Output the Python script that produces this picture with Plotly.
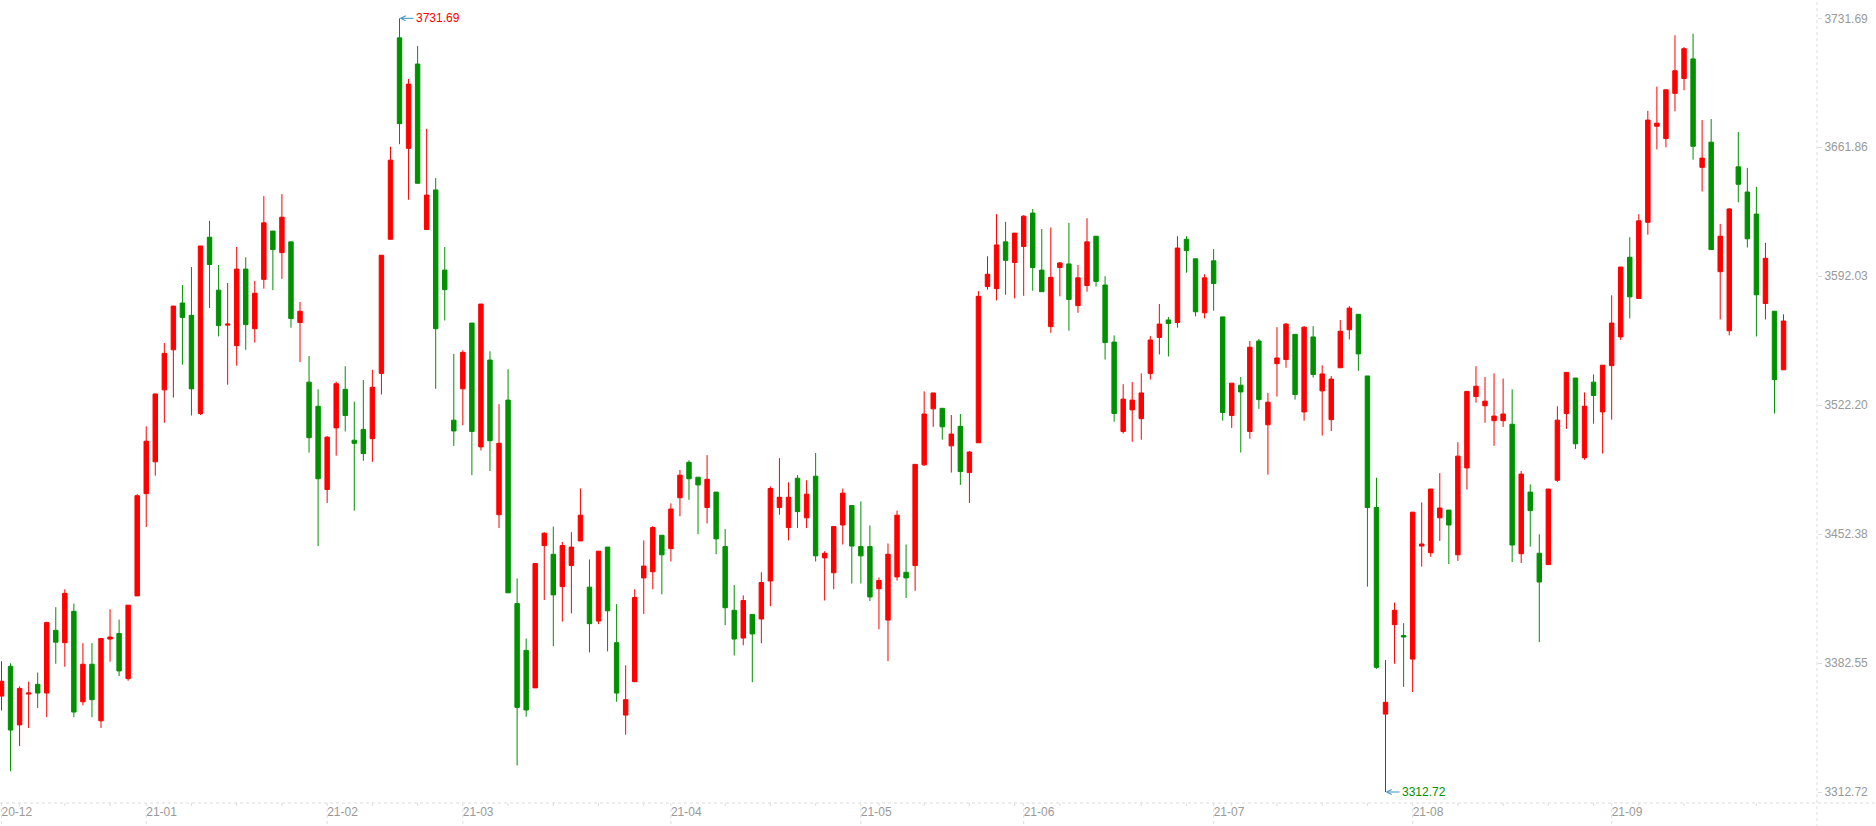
import pandas as pd
import plotly.graph_objects as go

# Shanghai Composite, daily bars, 2020-12-10 .. 2021-09-30 (China trading calendar)
holidays = ["2021-01-01", "2021-02-11", "2021-02-12", "2021-02-15", "2021-02-16",
            "2021-02-17", "2021-04-05", "2021-05-03", "2021-05-04", "2021-05-05",
            "2021-06-14", "2021-09-20", "2021-09-21"]
days = pd.bdate_range("2020-12-10", "2021-09-30", freq="C", holidays=holidays)
dates = [d.strftime("%Y-%m-%d") for d in days]

open_ = [3364.65, 3380.79, 3349.07, 3365.77, 3371.05, 3366.32, 3400.27, 3393.59, 3410.57, 3361.59,
         3381.91, 3351.30, 3395.54, 3398.60, 3374.12, 3418.92, 3474.29, 3491.55, 3530.50, 3552.21,
         3577.53, 3570.85, 3517.70, 3613.15, 3584.49, 3565.57, 3554.43, 3595.90, 3563.62, 3590.33,
         3616.49, 3604.80, 3610.64, 3566.96, 3534.68, 3521.60, 3476.52, 3509.91, 3530.78, 3503.23,
         3509.08, 3504.07, 3539.41, 3612.04, 3721.12, 3661.29, 3706.93, 3617.32, 3638.75, 3595.34,
         3514.09, 3531.06, 3566.68, 3499.62, 3546.64, 3462.88, 3524.94, 3414.74, 3389.42, 3369.11,
         3446.19, 3441.46, 3423.93, 3435.33, 3448.69, 3423.65, 3405.28, 3445.35, 3393.59, 3354.36,
         3372.45, 3428.66, 3432.00, 3451.75, 3444.52, 3472.07, 3491.27, 3483.20, 3466.78, 3475.13,
         3445.63, 3411.13, 3396.10, 3408.90, 3406.39, 3426.99, 3466.78, 3455.93, 3482.64, 3461.21,
         3483.75, 3439.51, 3431.44, 3457.32, 3467.89, 3445.63, 3445.63, 3422.81, 3405.84, 3429.21,
         3431.72, 3435.33, 3489.88, 3520.21, 3520.49, 3500.17, 3510.75, 3485.70, 3501.84, 3586.44,
         3585.32, 3610.64, 3599.51, 3608.14, 3626.23, 3595.34, 3564.73, 3596.73, 3598.68, 3576.14,
         3586.99, 3613.71, 3587.27, 3556.38, 3507.96, 3519.65, 3514.92, 3539.41, 3558.89, 3568.35,
         3566.96, 3612.04, 3601.46, 3572.24, 3600.35, 3570.02, 3516.59, 3533.01, 3507.96, 3556.94,
         3511.58, 3544.70, 3546.92, 3560.56, 3518.54, 3559.16, 3529.95, 3514.36, 3542.47, 3563.06,
         3571.41, 3538.02, 3466.78, 3354.91, 3403.33, 3397.49, 3384.69, 3445.91, 3442.29, 3461.21,
         3465.39, 3441.18, 3488.21, 3526.89, 3521.88, 3513.81, 3513.81, 3511.86, 3441.74, 3475.13,
         3442.01, 3435.89, 3481.53, 3517.70, 3536.90, 3493.77, 3534.68, 3518.54, 3543.58, 3559.16,
         3602.30, 3580.04, 3621.22, 3673.26, 3666.58, 3691.06, 3699.13, 3709.71, 3650.99, 3664.63,
         3594.51, 3562.50, 3651.27, 3637.64, 3625.67, 3577.25, 3573.08, 3541.36]

high = [3383.58, 3382.46, 3369.94, 3372.45, 3377.45, 3405.00, 3412.80, 3422.53, 3414.74, 3393.32,
        3393.32, 3395.82, 3411.68, 3406.12, 3413.91, 3474.01, 3510.75, 3528.28, 3555.83, 3575.86,
        3587.27, 3597.01, 3608.42, 3622.05, 3598.12, 3588.38, 3607.86, 3602.30, 3589.50, 3635.41,
        3616.49, 3636.52, 3610.64, 3578.09, 3548.87, 3530.78, 3505.46, 3534.96, 3543.30, 3524.10,
        3535.79, 3541.36, 3603.41, 3662.12, 3731.69, 3698.86, 3716.67, 3671.86, 3645.15, 3607.86,
        3549.98, 3551.93, 3566.68, 3576.97, 3551.37, 3522.71, 3541.63, 3428.38, 3395.82, 3436.45,
        3453.42, 3456.48, 3448.14, 3453.42, 3477.08, 3438.67, 3443.13, 3445.35, 3414.46, 3381.35,
        3422.53, 3448.97, 3456.76, 3451.75, 3469.01, 3487.09, 3492.38, 3483.20, 3495.16, 3475.13,
        3455.09, 3424.76, 3419.20, 3408.90, 3431.72, 3478.19, 3493.49, 3480.41, 3484.31, 3481.53,
        3496.28, 3443.13, 3456.48, 3477.08, 3467.89, 3470.12, 3457.04, 3428.93, 3447.30, 3465.11,
        3446.74, 3490.15, 3529.67, 3528.83, 3520.49, 3516.87, 3517.42, 3497.39, 3583.93, 3602.85,
        3625.67, 3621.50, 3615.38, 3625.11, 3628.45, 3617.60, 3618.44, 3599.79, 3620.94, 3598.12,
        3623.45, 3613.71, 3592.00, 3560.00, 3533.56, 3534.68, 3539.41, 3559.72, 3576.97, 3570.02,
        3613.71, 3613.71, 3601.46, 3593.11, 3606.75, 3570.02, 3534.12, 3537.46, 3556.94, 3558.05,
        3528.83, 3564.45, 3566.68, 3560.56, 3565.01, 3565.01, 3543.86, 3538.02, 3568.35, 3575.86,
        3571.41, 3538.02, 3482.92, 3384.13, 3415.30, 3404.17, 3464.27, 3469.56, 3476.80, 3485.42,
        3465.39, 3502.12, 3529.67, 3543.30, 3537.46, 3539.41, 3536.63, 3530.78, 3486.54, 3479.30,
        3452.31, 3476.80, 3521.60, 3539.96, 3536.90, 3529.11, 3538.85, 3543.86, 3581.70, 3597.01,
        3613.15, 3625.67, 3681.60, 3694.68, 3693.01, 3722.51, 3716.11, 3723.34, 3676.59, 3677.15,
        3620.38, 3629.01, 3670.19, 3650.72, 3640.42, 3610.09, 3573.08, 3571.41]

low = [3356.86, 3324.03, 3337.66, 3347.40, 3358.25, 3353.25, 3382.19, 3380.52, 3353.25, 3359.65,
       3353.25, 3347.40, 3383.30, 3375.51, 3373.00, 3418.92, 3456.21, 3484.03, 3512.69, 3526.33,
       3544.14, 3516.59, 3516.87, 3574.75, 3559.44, 3533.29, 3543.58, 3552.21, 3556.10, 3585.32,
       3584.49, 3590.61, 3564.17, 3545.53, 3496.55, 3445.91, 3469.28, 3494.88, 3507.96, 3465.11,
       3492.10, 3491.55, 3528.00, 3612.04, 3663.52, 3633.46, 3642.37, 3617.32, 3531.06, 3568.07,
       3500.17, 3511.30, 3484.31, 3497.67, 3486.54, 3455.65, 3420.59, 3327.09, 3353.52, 3369.11,
       3416.69, 3391.65, 3405.00, 3409.46, 3448.69, 3388.31, 3403.61, 3388.86, 3361.59, 3343.78,
       3372.45, 3409.18, 3422.53, 3419.75, 3437.56, 3462.05, 3470.95, 3452.31, 3458.15, 3441.46,
       3403.06, 3386.64, 3392.20, 3372.17, 3393.32, 3413.35, 3462.88, 3448.97, 3455.65, 3455.65,
       3437.56, 3416.41, 3422.53, 3446.74, 3425.60, 3425.60, 3416.13, 3400.83, 3383.58, 3427.26,
       3417.80, 3421.70, 3489.32, 3510.47, 3503.51, 3485.70, 3479.02, 3469.28, 3501.84, 3584.77,
       3578.92, 3581.98, 3580.04, 3581.43, 3584.21, 3583.65, 3561.39, 3581.15, 3562.50, 3572.24,
       3583.65, 3586.44, 3546.92, 3513.25, 3506.85, 3502.40, 3503.51, 3536.07, 3549.70, 3548.59,
       3564.17, 3593.95, 3570.30, 3569.18, 3573.36, 3513.81, 3509.91, 3496.55, 3504.07, 3520.21,
       3484.59, 3526.89, 3542.47, 3525.22, 3513.81, 3537.18, 3505.74, 3508.24, 3542.47, 3557.77,
       3540.80, 3423.93, 3379.40, 3312.72, 3382.19, 3369.66, 3366.88, 3434.78, 3440.07, 3448.69,
       3436.17, 3437.84, 3476.52, 3523.55, 3512.69, 3500.17, 3510.47, 3437.28, 3436.73, 3445.63,
       3393.87, 3435.61, 3480.69, 3509.35, 3498.50, 3492.66, 3512.14, 3496.00, 3514.36, 3557.50,
       3569.18, 3580.04, 3614.54, 3660.73, 3661.85, 3681.33, 3692.73, 3655.17, 3637.92, 3606.47,
       3568.63, 3560.00, 3632.07, 3607.58, 3559.44, 3568.63, 3517.70, 3541.36]

close = [3372.72, 3346.29, 3368.83, 3366.32, 3366.32, 3404.45, 3393.87, 3420.31, 3356.03, 3381.91,
         3362.71, 3395.82, 3396.66, 3378.29, 3413.91, 3473.18, 3502.68, 3528.28, 3550.26, 3575.86,
         3569.74, 3531.06, 3608.42, 3598.40, 3565.29, 3566.12, 3595.90, 3565.84, 3582.82, 3620.94,
         3606.47, 3624.00, 3569.18, 3573.08, 3504.62, 3482.36, 3504.90, 3533.84, 3516.59, 3501.56,
         3496.00, 3531.89, 3603.41, 3654.89, 3674.65, 3696.07, 3642.37, 3635.97, 3563.62, 3584.77,
         3508.24, 3550.82, 3507.96, 3576.97, 3502.95, 3501.56, 3420.59, 3358.53, 3357.14, 3436.45,
         3452.87, 3419.47, 3446.19, 3445.35, 3462.61, 3403.89, 3443.13, 3410.85, 3366.32, 3362.71,
         3418.08, 3435.06, 3455.93, 3441.18, 3465.94, 3484.31, 3482.36, 3479.02, 3482.08, 3449.80,
         3412.52, 3395.54, 3416.41, 3398.32, 3426.15, 3477.08, 3472.34, 3472.34, 3464.55, 3474.01,
         3440.62, 3442.01, 3456.48, 3474.57, 3445.91, 3440.62, 3418.36, 3427.26, 3441.46, 3462.61,
         3428.66, 3490.15, 3517.42, 3528.83, 3510.47, 3506.57, 3486.26, 3496.83, 3581.15, 3593.11,
         3608.98, 3600.63, 3615.38, 3624.56, 3596.73, 3583.65, 3591.44, 3599.24, 3579.48, 3591.17,
         3610.64, 3589.22, 3556.10, 3517.70, 3525.49, 3524.94, 3528.83, 3557.50, 3566.12, 3566.40,
         3607.31, 3605.91, 3572.80, 3591.17, 3588.10, 3518.26, 3534.12, 3529.39, 3553.60, 3525.22,
         3523.82, 3547.76, 3566.12, 3528.00, 3564.45, 3538.85, 3539.13, 3536.35, 3562.23, 3574.75,
         3549.98, 3466.78, 3380.24, 3361.32, 3411.13, 3396.66, 3464.27, 3447.02, 3476.80, 3466.50,
         3457.32, 3494.61, 3529.67, 3532.45, 3524.38, 3516.31, 3517.42, 3446.47, 3484.87, 3465.11,
         3426.43, 3476.80, 3514.09, 3539.96, 3501.29, 3521.60, 3527.44, 3543.86, 3566.68, 3597.01,
         3580.87, 3622.05, 3676.59, 3674.93, 3693.01, 3703.31, 3715.27, 3662.40, 3656.00, 3606.47,
         3613.71, 3628.45, 3641.81, 3612.31, 3581.98, 3601.74, 3536.07, 3567.79]

UP = "#ff0000"
DOWN = "#009100"
LINE = "#dddddd"
LABEL = "#999999"
FONT = "Liberation Sans, Arial, sans-serif"

n = len(dates)
hi = max(high)
lo = min(low)
i_hi = high.index(hi)
i_lo = low.index(lo)

# right axis: 7 evenly spaced levels between the extremes
levels = [lo + k * (hi - lo) / 6 for k in range(7)]
span = hi - lo

# bottom axis: month labels, week ticks
month_idx = [i for i in range(n) if i == 0 or dates[i][:7] != dates[i - 1][:7]]
month_txt = [dates[i][2:7] for i in month_idx]
week_idx = [i for i in range(n) if days[i].weekday() == 0 and i not in month_idx]

fig = go.Figure(go.Candlestick(
    x=dates, open=open_, high=high, low=low, close=close,
    increasing=dict(line=dict(color=UP, width=1), fillcolor=UP),
    decreasing=dict(line=dict(color=DOWN, width=1), fillcolor=DOWN),
    whiskerwidth=0,
    showlegend=False,
))

shapes = [
    dict(type="line", xref="paper", yref="paper", x0=0, x1=1.05, y0=0, y1=0,
         line=dict(color=LINE, width=1, dash="dot")),
    dict(type="line", xref="paper", yref="paper", x0=1, x1=1, y0=-0.03, y1=1,
         line=dict(color=LINE, width=1, dash="dot")),
]
for i in month_idx:
    shapes.append(dict(type="line", xref="x", yref="paper", x0=i, x1=i, y0=0, y1=-0.03,
                       line=dict(color=LINE, width=1, dash="dot")))
for i in week_idx:
    shapes.append(dict(type="line", xref="x", yref="paper", x0=i, x1=i, y0=0, y1=-0.005,
                       line=dict(color=LINE, width=1, dash="dot")))

fig.update_layout(
    width=1876, height=826,
    margin=dict(l=0, r=59, t=0, b=23),
    paper_bgcolor="white", plot_bgcolor="white",
    font=dict(family=FONT, size=12, color=LABEL),
    shapes=shapes,
    xaxis=dict(
        type="category", range=[-0.166, 200.7], rangeslider=dict(visible=False),
        showgrid=False, zeroline=False, showline=False, ticks="",
        tickmode="array", tickvals=[dates[i] for i in month_idx], ticktext=month_txt,
        ticklabelposition="outside right", tickfont=dict(size=12, color=LABEL),
    ),
    yaxis=dict(
        side="right", range=[lo - 0.0142 * span, hi + 0.0237 * span],
        showgrid=False, zeroline=False, showline=False,
        tickmode="array", tickvals=levels, ticktext=[f"{v:.2f}" for v in levels],
        ticks="outside", ticklen=4, tickcolor=LINE, tickfont=dict(size=12, color=LABEL),
    ),
)

fig.add_annotation(x=dates[i_hi], y=hi, text=f"{hi:.2f}", showarrow=True,
                   arrowhead=5, arrowsize=1, arrowwidth=1, arrowcolor="#3c95bd",
                   ax=14, ay=0, xanchor="left", yanchor="middle",
                   font=dict(color=UP, size=12, family=FONT))
fig.add_annotation(x=dates[i_lo], y=lo, text=f"{lo:.2f}", showarrow=True,
                   arrowhead=5, arrowsize=1, arrowwidth=1, arrowcolor="#3c95bd",
                   ax=14, ay=0, xanchor="left", yanchor="middle",
                   font=dict(color=DOWN, size=12, family=FONT))

fig.write_html("out.html", config={"displayModeBar": False},
               post_script="document.body.style.margin='0px';")
